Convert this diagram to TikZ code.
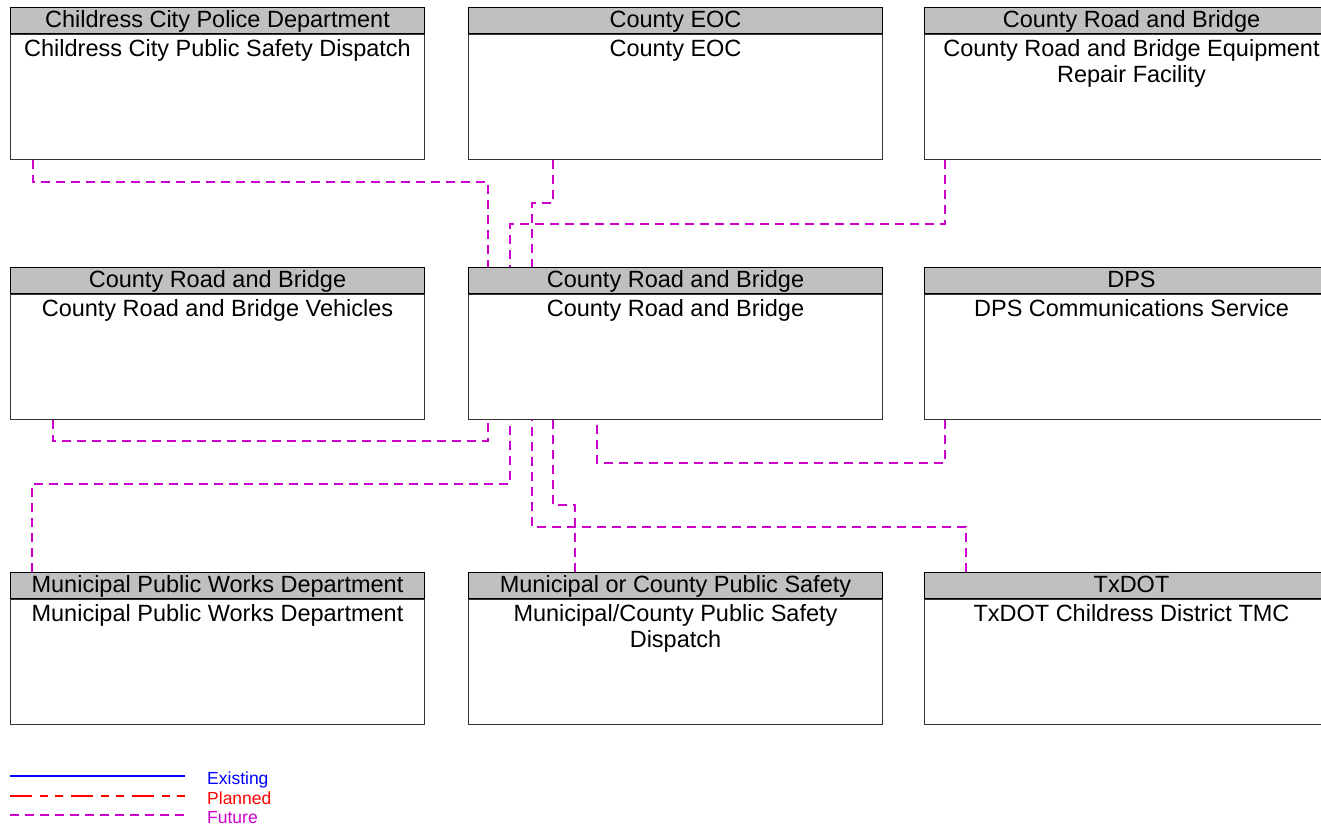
\documentclass[tikz,border=0pt]{standalone}
\usepackage{fontspec}
\setmainfont{Liberation Sans}
\usetikzlibrary{calc,positioning}

\definecolor{hdrgray}{RGB}{192,192,192}
\definecolor{futmag}{RGB}{204,0,204}
\definecolor{plred}{RGB}{255,0,0}
\definecolor{exblue}{RGB}{0,0,255}

% body text of a box, top aligned
\newcommand{\bodytxt}[1]{\parbox[c][125pt][t]{405pt}{\centering\rule{0pt}{22pt}#1}}

\begin{document}
\begin{tikzpicture}[x=1pt,y=-1pt,every node/.style={font=\fontsize{23.5}{26}\selectfont},
          hdr/.style={draw=black,fill=hdrgray,line width=1pt,minimum width=414pt,minimum height=26pt,
                      text height=20pt,text depth=6pt,inner sep=0pt,anchor=north west},
          bdy/.style={draw=black!80,line width=1pt,minimum width=414pt,inner sep=0pt,anchor=north},
          future/.style={draw=futmag,line width=1.2pt,dash pattern=on 9pt off 6pt},
          planned/.style={draw=plred,line width=1.3pt,dash pattern=on 22pt off 8pt on 8pt off 7pt on 8pt off 8pt},
          existing/.style={draw=exblue,line width=1.3pt},
          leg/.style={font=\fontsize{17.5}{20}\selectfont,anchor=base west,inner sep=0pt}]
        \useasboundingbox (0,0) rectangle (1321,825);
        % row 1
        \node[hdr] (cpdh) at (10,7) {Childress City Police Department};
        \node[bdy] (cpd) at (cpdh.south) {\bodytxt{Childress City Public Safety Dispatch}};
        \node[hdr] (eoch) at (468,7) {County EOC};
        \node[bdy] (eoc) at (eoch.south) {\bodytxt{County EOC}};
        \node[hdr] (rbeh) at (924,7) {County Road and Bridge};
        \node[bdy] (rbe) at (rbeh.south) {\bodytxt{County Road and Bridge Equipment\\Repair Facility}};
        % row 2
        \node[hdr] (vehh) at (10,267) {County Road and Bridge};
        \node[bdy] (veh) at (vehh.south) {\bodytxt{County Road and Bridge Vehicles}};
        \node[hdr] (crbh) at (468,267) {County Road and Bridge};
        \node[bdy] (crb) at (crbh.south) {\bodytxt{County Road and Bridge}};
        \node[hdr] (dpsh) at (924,267) {DPS};
        \node[bdy] (dps) at (dpsh.south) {\bodytxt{DPS Communications Service}};
        % row 3
        \node[hdr] (mpwh) at (10,572) {Municipal Public Works Department};
        \node[bdy] (mpw) at (mpwh.south) {\bodytxt{Municipal Public Works Department}};
        \node[hdr] (mcpsh) at (468,572) {Municipal or County Public Safety};
        \node[bdy] (mcps) at (mcpsh.south) {\bodytxt{Municipal/County Public Safety\\Dispatch}};
        \node[hdr] (txdh) at (924,572) {TxDOT};
        \node[bdy] (txd) at (txdh.south) {\bodytxt{TxDOT Childress District TMC}};
        % flows
        \draw[future] ([xshift=23pt]cpd.south west) -- ++(0,22) -| ([xshift=20pt]crbh.north west);
        \draw[future] ([xshift=85pt]eoc.south west) -- ++(0,43) -| ([xshift=64pt]crbh.north west);
        \draw[future] ([xshift=21pt]rbe.south west) -- ++(0,64) -| ([xshift=42pt]crbh.north west);
        \draw[future] ([xshift=43pt]veh.south west) -- ++(0,21) -| ([xshift=20pt]crb.south west);
        \draw[future] ([xshift=22pt]mpwh.north west) -- ++(0,-88) -| ([xshift=42pt]crb.south west);
        \draw[future] ([xshift=21pt]dps.south west) -- ++(0,43) -| ([xshift=129pt]crb.south west);
        \draw[future] ([xshift=107pt]mcpsh.north west) -- ++(0,-67) -| ([xshift=85pt]crb.south west);
        \draw[future] ([xshift=42pt]txdh.north west) -- ++(0,-45) -| ([xshift=64pt]crb.south west);
        % legend
        \node[leg,text=exblue] (lexist) at (207,784) {Existing};
        \node[leg,text=plred] (lplan) at (207,804) {Planned};
        \node[leg,text=futmag] (lfut) at (207,823) {Future};
        \coordinate (lexa) at (10,776);
        \coordinate (lpla) at (10,796);
        \coordinate (lfua) at (10,815);
        \draw[existing] (lexa) -- ++(175,0);
        \draw[planned] (lpla) -- ++(175,0);
        \draw[future] (lfua) -- ++(175,0);
      \end{tikzpicture}
\end{document}
